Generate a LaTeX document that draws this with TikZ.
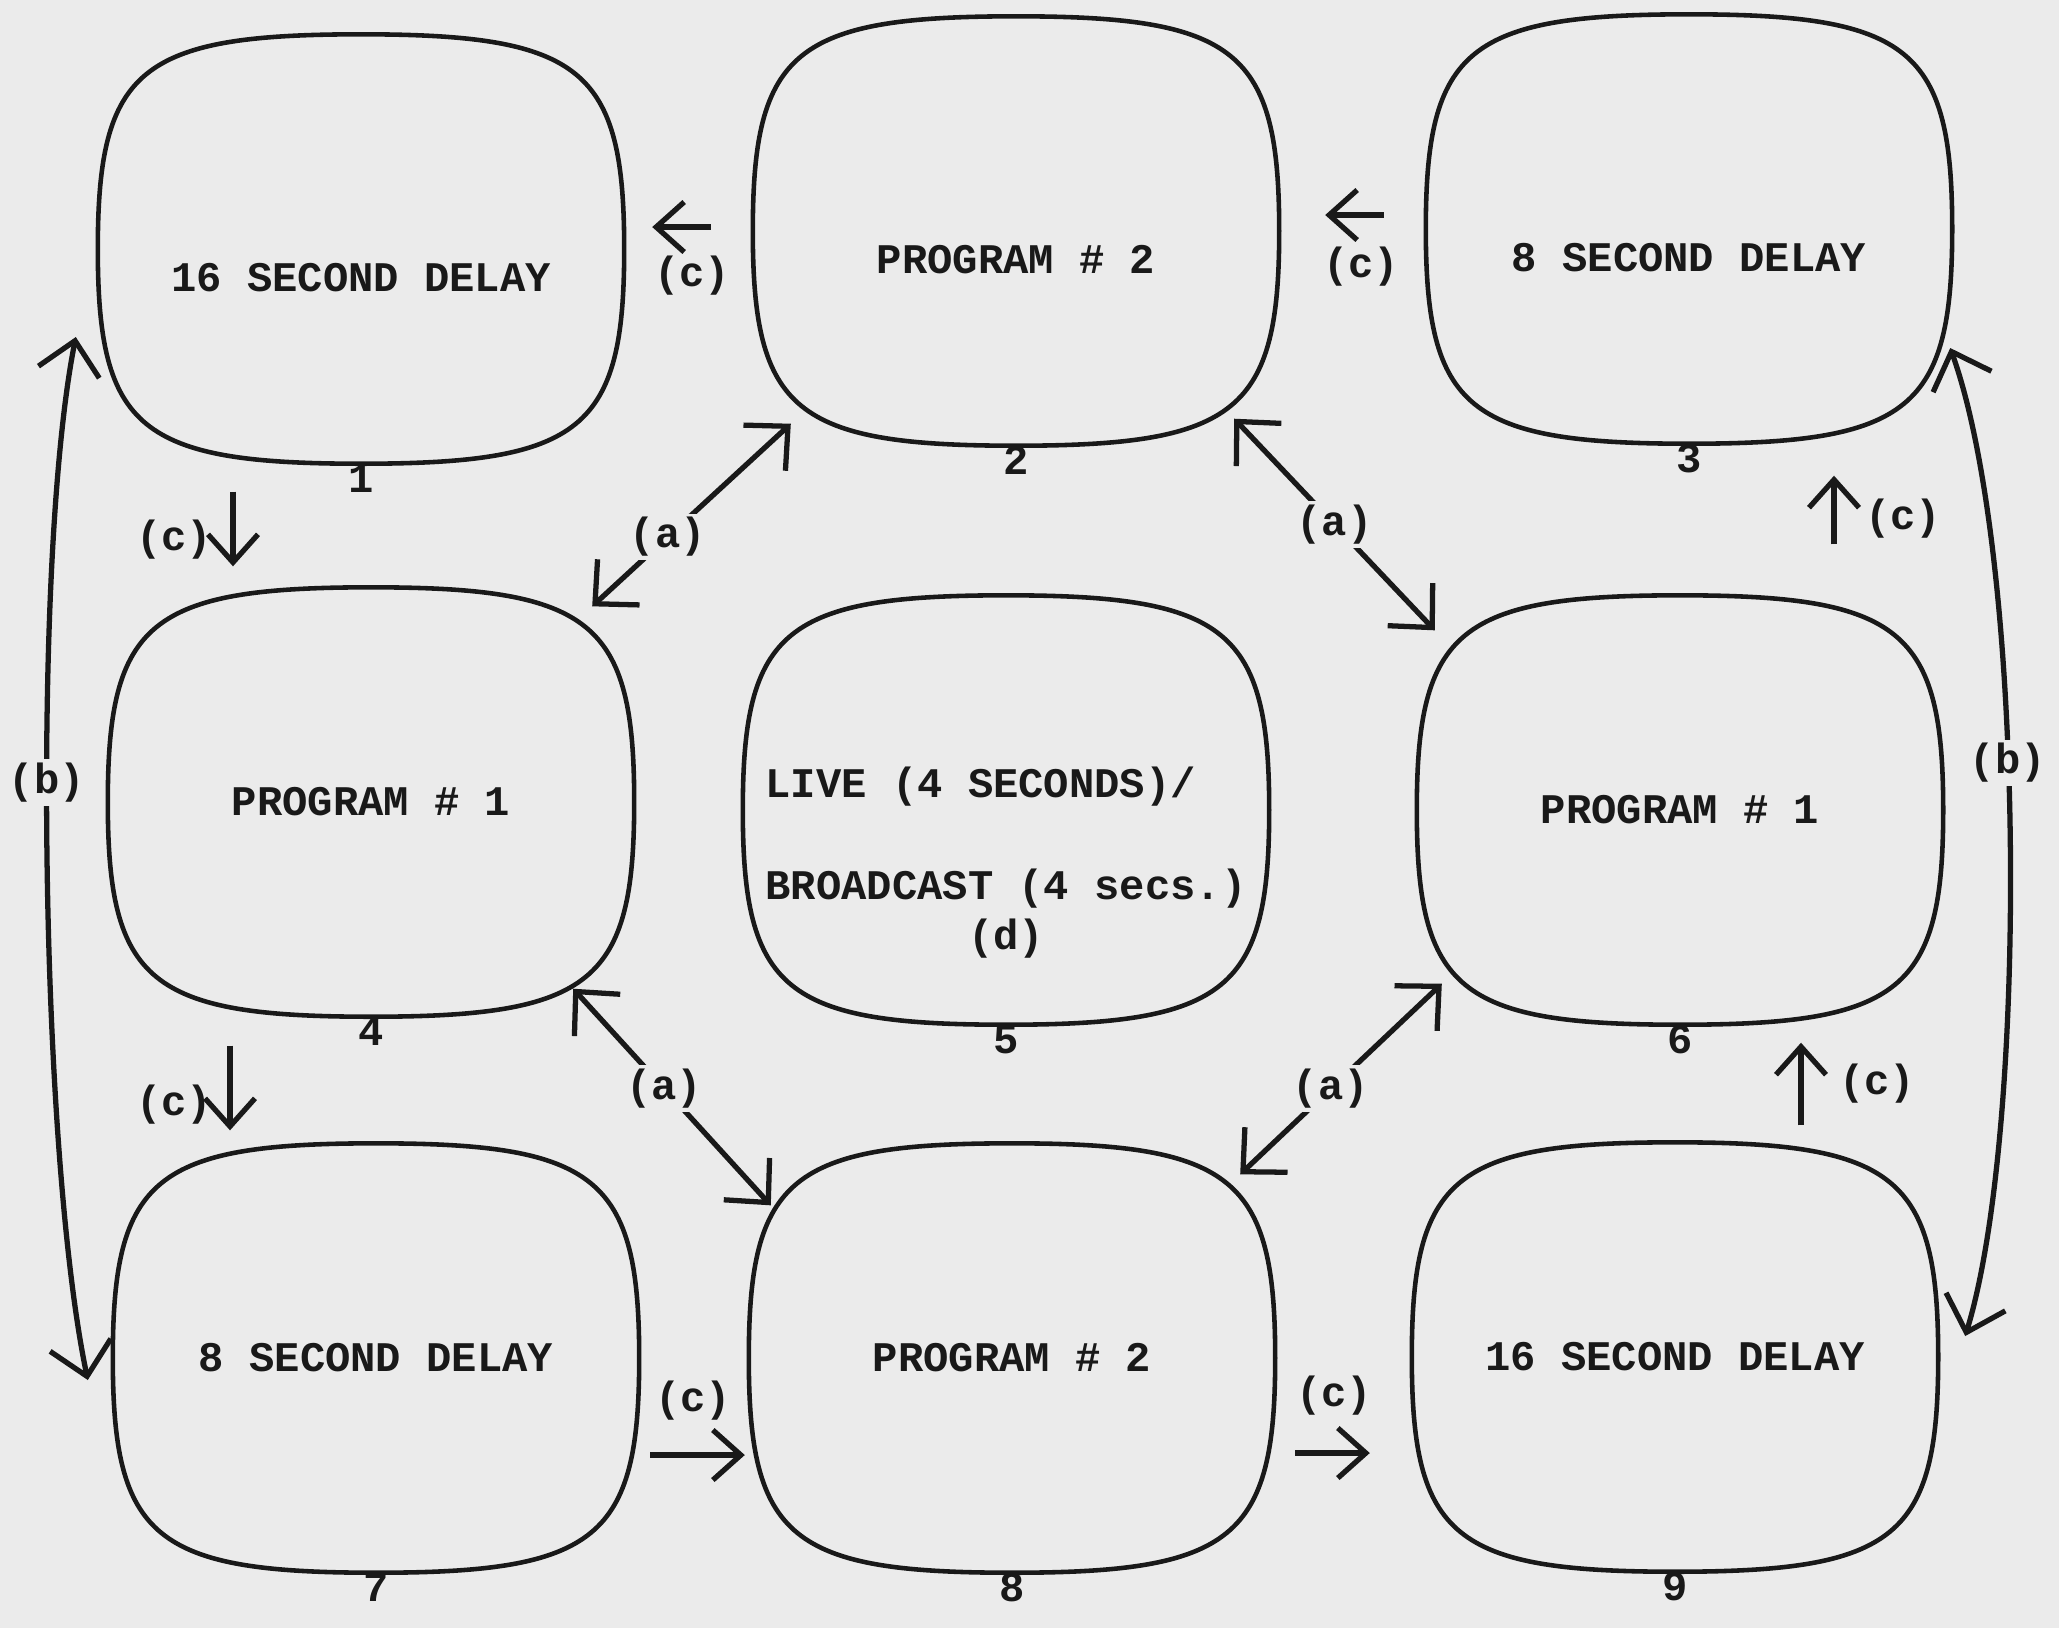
\documentclass[tikz,border=0pt]{standalone}
\usepackage{fontspec}
\setmonofont{Liberation Mono}
\usetikzlibrary{arrows.meta,calc}
\definecolor{paper}{RGB}{235,235,235}
\definecolor{ink}{RGB}{25,25,25}
\tikzset{
  typed/.style={font=\ttfamily\bfseries\fontsize{12}{14}\selectfont, text=ink},
  screen/.style={typed, minimum width=5.25cm, minimum height=4.28cm, inner sep=0pt, label distance=1.3mm},
  toprow/.style={text height=8.4mm, text depth=0mm},
  number/.style={typed, inner sep=0pt},
  tag/.style={typed, inner sep=1pt},
  rim/.style={draw=ink, line width=1.3pt},
  carrow/.style={draw=ink, line width=1.5pt, -{Straight Barb[length=2.8mm,width=5mm]}},
  aarrow/.style={draw=ink, line width=1.5pt, {Straight Barb[length=3.2mm,width=6.2mm]}-{Straight Barb[length=3.2mm,width=6.2mm]}},
}
\newcommand{\bulge}{0.84}

\begin{document}
\begin{tikzpicture}[x=0.1mm,y=-0.1mm]
  \fill[paper] (0,0) rectangle (2059,1628);
  \useasboundingbox (0,0) rectangle (2059,1628);

  % screens
  \node[screen,toprow,label={[number]below:1}] (s1) at (361,249) {16 SECOND DELAY};
  \node[screen,toprow,label={[number]below:2}] (s2) at (1016,231) {PROGRAM \# 2};
  \node[screen,toprow,label={[number]below:3}] (s3) at (1689,229) {8 SECOND DELAY};
  \node[screen,label={[number]below:4}] (s4) at (371,802) {PROGRAM \# 1};
  \node[screen,align=center,text height=28.7mm,label={[number]below:5}] (s5) at (1006,810) {LIVE (4 SECONDS)/\phantom{xx}\\[5.3mm]BROADCAST (4 secs.)\\(d)};
  \node[screen,label={[number]below:6}] (s6) at (1680,810) {PROGRAM \# 1};
  \node[screen,label={[number]below:7}] (s7) at (376,1358) {8 SECOND DELAY};
  \node[screen,label={[number]below:8}] (s8) at (1012,1358) {PROGRAM \# 2};
  \node[screen,label={[number]below:9}] (s9) at (1675,1357) {16 SECOND DELAY};

  % outlines
  \foreach \i in {1,...,9}
    \draw[rim] (s\i.north)
      .. controls ($(s\i.north)!\bulge!(s\i.north east)$) and ($(s\i.east)!\bulge!(s\i.north east)$) .. (s\i.east)
      .. controls ($(s\i.east)!\bulge!(s\i.south east)$) and ($(s\i.south)!\bulge!(s\i.south east)$) .. (s\i.south)
      .. controls ($(s\i.south)!\bulge!(s\i.south west)$) and ($(s\i.west)!\bulge!(s\i.south west)$) .. (s\i.west)
      .. controls ($(s\i.west)!\bulge!(s\i.north west)$) and ($(s\i.north)!\bulge!(s\i.north west)$) .. (s\i.north) -- cycle;

  % (c) labels
  \node[tag] (c12) at (692,276) {(c)};
  \node[tag] (c23) at (1361,267) {(c)};
  \node[tag] (c14) at (174,540) {(c)};
  \node[tag] (c47) at (174,1105) {(c)};
  \node[tag] (c78) at (693,1401) {(c)};
  \node[tag] (c89) at (1334,1396) {(c)};
  \node[tag] (c96) at (1877,1084) {(c)};
  \node[tag] (c63) at (1903,519) {(c)};

  % (c) arrows
  \draw[carrow] ($(s2.west)+(-42,-4)$) -- ($(s1.east)+(28,-22)$);
  \draw[carrow] ($(s3.west)+(-42,-14)$) -- ($(s2.east)+(46,-16)$);
  \draw[carrow] ($(s1.south)+(-128,28)$) -- ($(s4.north)+(-138,-21)$);
  \draw[carrow] ($(s4.south)+(-141,29)$) -- ($(s7.north)+(-146,-13)$);
  \draw[carrow] ($(s7.east)+(11,97)$) -- ($(s8.west)+(-4,97)$);
  \draw[carrow] ($(s8.east)+(20,95)$) -- ($(s9.west)+(-42,96)$);
  \draw[carrow] ($(s9.north)+(126,-17)$) -- ($(s6.south)+(121,18)$);
  \draw[carrow] ($(s6.north)+(154,-51)$) -- ($(s3.south)+(145,32)$);

  % (a) arrows
  \draw[aarrow] ($(s4.north east)+(-42,19)$) -- node[tag,fill=paper,pos=0.38] {(a)} ($(s2.south west)+(38,-22)$);
  \draw[aarrow] ($(s2.south east)+(-45,-27)$) -- node[tag,fill=paper,pos=0.5] {(a)} ($(s6.north west)+(18,35)$);
  \draw[aarrow] ($(s4.south east)+(-61,-28)$) -- node[tag,fill=paper,pos=0.46] {(a)} ($(s8.north west)+(22,62)$);
  \draw[aarrow] ($(s8.north east)+(-35,31)$) -- node[tag,fill=paper,pos=0.45] {(a)} ($(s6.south west)+(25,-41)$);

  % (b) arrows
  \draw[aarrow] ($(s1.west)+(-22,88)$) .. controls +(-44,223) and +(-48,-230) .. node[tag,fill=paper,pos=0.44] {(b)} ($(s7.west)+(-25,22)$);
  \draw[aarrow] ($(s3.east)+(-2,119)$) .. controls +(76,212) and +(63,-206) .. node[tag,fill=paper,pos=0.43] {(b)} ($(s9.east)+(27,-21)$);
\end{tikzpicture}
\end{document}
